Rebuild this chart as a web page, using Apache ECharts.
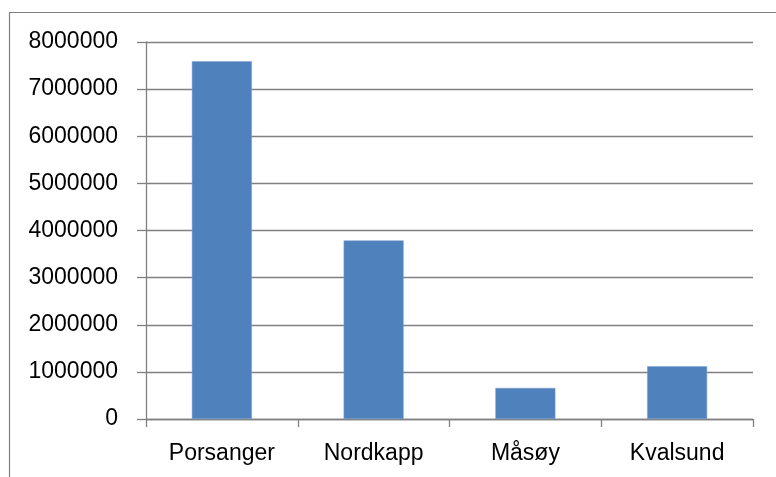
<!DOCTYPE html>
<html>
<head>
<meta charset="utf-8">
<script src="https://cdn.jsdelivr.net/npm/echarts@6/dist/echarts.min.js"></script>
<style>html,body{margin:0;padding:0;background:#fff;}#c{width:776px;height:477px;}</style>
</head>
<body>
<div id="c"></div>
<script>
var categories = ['Porsanger', 'Nordkapp', 'Måsøy', 'Kvalsund'];
var values = [7590000, 3790000, 660000, 1120000];

var chart = echarts.init(document.getElementById('c'), null, {renderer: 'canvas'});
var font = 'Liberation Sans';
var gray = '#808080';
chart.setOption({
  animation: false,
  backgroundColor: '#fff',
  graphic: [{
    type: 'rect',
    shape: {x: 9.5, y: 12.5, width: 800, height: 500},
    style: {fill: 'none', stroke: gray, lineWidth: 1.2},
    silent: true
  }],
  grid: {left: 146, right: 23, top: 42, bottom: 58, containLabel: false},
  xAxis: {
    type: 'category',
    data: categories,
    boundaryGap: true,
    axisLine: {lineStyle: {color: gray, width: 1.3}},
    axisTick: {show: true, length: 8, alignWithLabel: false, lineStyle: {color: gray, width: 1.3}},
    axisLabel: {color: '#000', fontFamily: font, fontSize: 23, margin: 23}
  },
  yAxis: {
    type: 'value',
    min: 0, max: 8000000, interval: 1000000,
    axisLine: {show: true, lineStyle: {color: gray, width: 1.3}},
    axisTick: {show: true, length: 9, inside: false, lineStyle: {color: gray, width: 1.3}},
    splitLine: {show: true, lineStyle: {color: gray, width: 1.3}},
    axisLabel: {color: '#000', fontFamily: font, fontSize: 23, margin: 28,
      formatter: function (v) { return String(v); }}
  },
  series: [{
    type: 'bar',
    data: values,
    barWidth: 60,
    itemStyle: {color: '#4f81bd', borderColor: '#7fa2cf', borderWidth: 0.5}
  }]
});
</script>
</body>
</html>
